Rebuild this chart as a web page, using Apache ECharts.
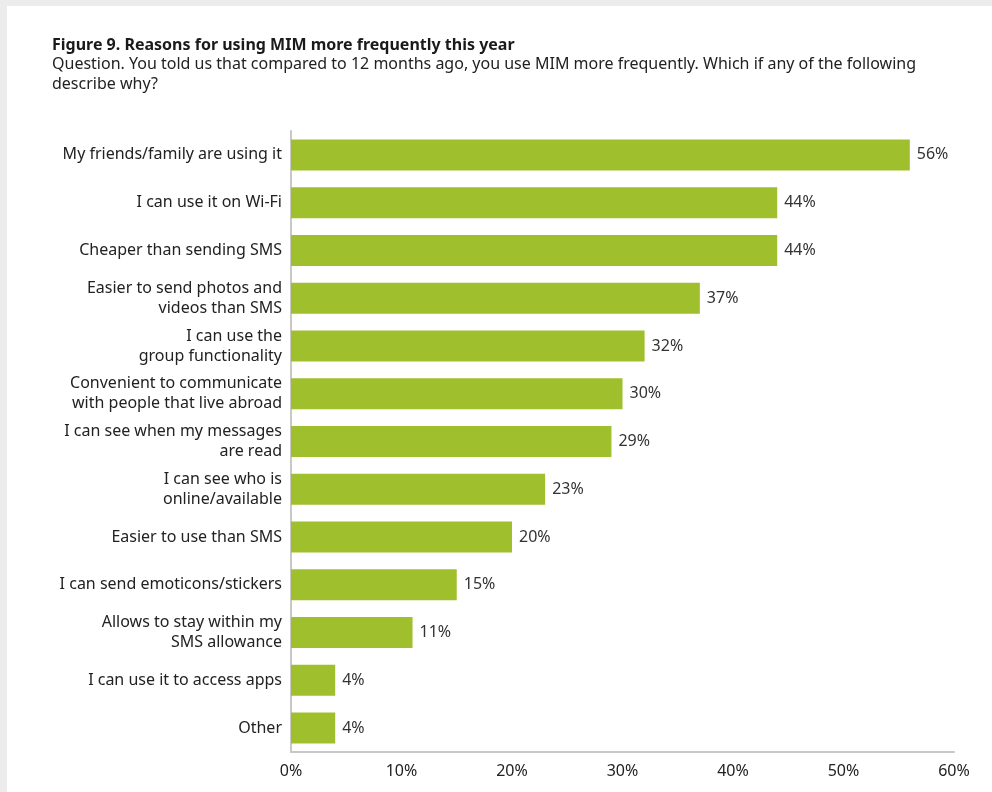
<!DOCTYPE html>
<html>
<head>
<meta charset="utf-8">
<script src="https://cdn.jsdelivr.net/npm/echarts@6/dist/echarts.min.js"></script>
<style>
  html, body { margin: 0; padding: 0; background: #fff; }
  #chart { width: 992px; height: 792px; }
</style>
</head>
<body>
<div id="chart"></div>
<script>
// categories top to bottom
const reasons = [
  'My friends/family are using it',
  'I can use it on Wi-Fi',
  'Cheaper than sending SMS',
  'Easier to send photos and\nvideos than SMS',
  'I can use the\ngroup functionality',
  'Convenient to communicate\nwith people that live abroad',
  'I can see when my messages\nare read',
  'I can see who is\nonline/available',
  'Easier to use than SMS',
  'I can send emoticons/stickers',
  'Allows to stay within my\nSMS allowance',
  'I can use it to access apps',
  'Other'
]
const shares = [56, 44, 44, 37, 32, 30, 29, 23, 20, 15, 11, 4, 4]
const xTicks = [0, 10, 20, 30, 40, 50, 60]

const font = 'Noto Sans'
const dom = echarts.init(document.getElementById('chart'))
dom.setOption({
  animation: false,
  backgroundColor: '#fff',
  graphic: [
    { type: 'rect', shape: { x: 0, y: 0, width: 992, height: 6 }, style: { fill: '#ececec' } },
    { type: 'rect', shape: { x: 0, y: 0, width: 7, height: 792 }, style: { fill: '#ececec' } }
  ],
  title: {
    left: 47,
    top: 32,
    text: 'Figure 9. Reasons for using MIM more frequently this year',
    textStyle: { fontFamily: font, fontSize: 16, fontWeight: 'bold', color: '#1a1a1a' },
    subtext: 'Question. You told us that compared to 12 months ago, you use MIM more frequently. Which if any of the following\ndescribe why?',
    subtextStyle: { fontFamily: font, fontSize: 16, color: '#222', lineHeight: 20 },
    itemGap: 1
  },
  grid: {
    left: 291,
    right: 38,
    top: 131,
    bottom: 40
  },
  xAxis: {
    type: 'value',
    min: xTicks[0],
    max: xTicks[xTicks.length - 1],
    interval: 10,
    splitLine: { show: false },
    axisLine: { show: true, lineStyle: { color: '#c8c8c8', width: 2 } },
    axisTick: { show: false },
    axisLabel: {
      formatter: '{value}%',
      margin: 11,
      fontFamily: font,
      fontSize: 16,
      color: '#222'
    }
  },
  yAxis: {
    type: 'category',
    inverse: true,
    data: reasons,
    axisLine: { show: true, lineStyle: { color: '#c8c8c8', width: 2 } },
    axisTick: { show: false },
    axisLabel: {
      margin: 9,
      fontFamily: font,
      fontSize: 16,
      lineHeight: 20,
      color: '#222',
      align: 'right'
    }
  },
  series: [
    {
      type: 'bar',
      data: shares,
      barWidth: 31,
      itemStyle: { color: '#a0bf2c' },
      label: {
        show: true,
        position: 'right',
        distance: 7,
        formatter: '{c}%',
        fontFamily: font,
        fontSize: 16,
        color: '#333'
      }
    }
  ]
})
</script>
</body>
</html>
